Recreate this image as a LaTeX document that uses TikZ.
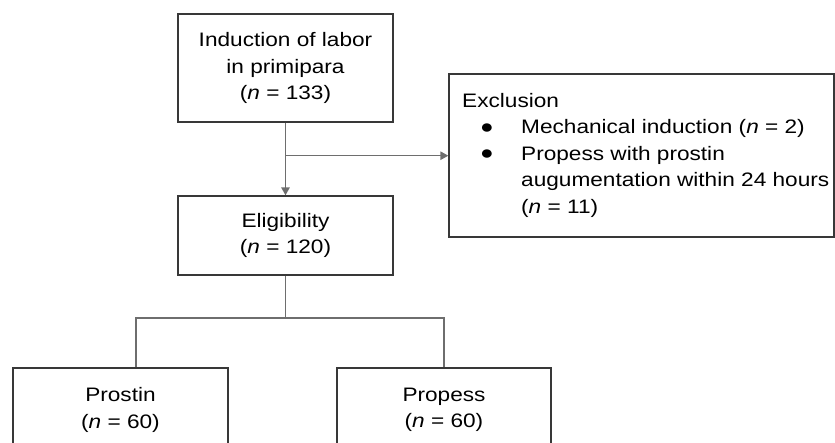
\documentclass[tikz,border=0pt]{standalone}
\usepackage{fontspec}
\setmainfont[FakeStretch=1.16]{Liberation Sans}
\usetikzlibrary{arrows.meta}
\definecolor{boxgray}{HTML}{383838}
\definecolor{conngray}{HTML}{6E6E6E}
\newcommand\fs{\fontsize{19.5}{26.5}\selectfont}
\newcommand\blt{\hspace*{18pt}\makebox[41pt][l]{\raisebox{0.5pt}{●}}}
\begin{document}
\begin{tikzpicture}[x=1pt,y=-1pt,
  box/.style={draw=boxgray, line width=1.4pt, fill=white, inner sep=0pt, align=center, font=\fs},
  conn/.style={draw=conngray, line width=1.4pt},
  arr/.style={conn, -{Triangle[length=8pt,width=8.5pt]}}]
\clip (0,0) rectangle (835,442);
% boxes
\node[box, minimum width=215pt, minimum height=108pt] (induct) at (285.5,68)
  {Induction of labor\\in primipara\\(\textit{n} = 133)};
\node[box, minimum width=215pt, minimum height=79pt] (elig) at (285.5,235.5)
  {Eligibility\\(\textit{n} = 120)};
\node[box, minimum width=385pt, minimum height=163pt] (excl) at (641.5,155.5) {};
\node[anchor=north west, inner sep=0pt, align=left, font=\fs] (excltext) at (462,92.8)
  {Exclusion\\
   \blt Mechanical induction (\textit{n} = 2)\\
   \blt Propess with prostin\\
   \hspace*{59pt}augumentation within 24 hours\\
   \hspace*{59pt}(\textit{n} = 11)};
\node[box, minimum width=215pt, minimum height=84pt] (prostin) at (120.5,410)
  {Prostin\\(\textit{n} = 60)};
\node[box, minimum width=214pt, minimum height=84pt] (propess) at (444,410)
  {Propess\\(\textit{n} = 60)};
% connectors
\coordinate (split) at (285.5,155.7);
\coordinate (fork) at (285.5,318);
\coordinate (lb) at (136,318);
\coordinate (rb) at (444,318);
\draw[arr] (induct.south) -- (elig.north);
\draw[arr] (split) -- (excl.west |- split);
\draw[conn] (elig.south) -- (fork);
\draw[conn] (prostin.north -| lb) -- (lb) -- (rb) -- (propess.north);
\end{tikzpicture}
\end{document}
